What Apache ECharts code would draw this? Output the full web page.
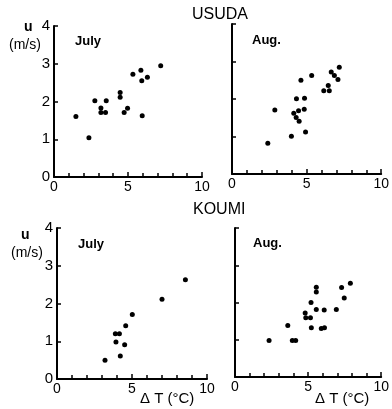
<!DOCTYPE html>
<html>
<head>
<meta charset="utf-8">
<script src="https://cdn.jsdelivr.net/npm/echarts@6/dist/echarts.min.js"></script>
<style>
html,body{margin:0;padding:0;background:#fff;}
#chart{width:392px;height:409px;}
</style>
</head>
<body>
<div id="chart"></div>
<script>
// 风速 u (m/s) 与 温差 ΔT (°C) 的散点
var usudaJuly = [
    [1.48,1.60],[2.36,1.04],[2.76,2.02],[3.17,1.83],[3.17,1.71],[3.48,1.71],
    [3.53,2.02],[4.47,2.24],[4.47,2.11],[4.74,1.71],[4.97,1.82],[5.33,2.72],
    [5.87,2.83],[5.93,2.55],[5.96,1.62],[6.31,2.64],[7.21,2.95]
];
var usudaAug = [
    [2.40,0.82],[2.87,1.71],[3.98,1.01],[4.14,1.62],[4.30,1.51],[4.32,2.01],
    [4.46,1.69],[4.50,1.41],[4.62,2.50],[4.84,1.73],[4.86,2.02],[4.93,1.12],
    [5.34,2.63],[6.15,2.22],[6.45,2.36],[6.52,2.22],[6.65,2.72],[6.86,2.63],
    [7.10,2.52],[7.19,2.85]
];
var koumiJuly = [
    [3.20,0.50],[3.89,1.20],[3.93,0.98],[4.16,1.20],[4.22,0.61],[4.51,0.91],
    [4.58,1.41],[5.02,1.71],[7.00,2.11],[8.56,2.63]
];
var koumiAug = [
    [2.33,0.98],[3.61,1.38],[3.92,0.98],[4.15,0.98],[4.80,1.72],[4.84,1.59],
    [5.16,1.59],[5.20,2.00],[5.22,1.32],[5.56,2.41],[5.56,2.28],[5.56,1.81],
    [5.90,1.30],[6.12,1.32],[6.10,1.80],[6.93,1.81],[7.29,2.40],[7.47,2.12],
    [7.89,2.52]
];
var xTicks = [0, 5, 10];
var yTicks = [0, 1, 2, 3, 4];

var font = 'Liberation Sans, Arial, sans-serif';
var grids = [
    {left: 54, top: 26, width: 148, height: 151},
    {left: 232, top: 24, width: 151, height: 150},
    {left: 57, top: 228, width: 150, height: 151},
    {left: 235, top: 228, width: 148, height: 149}
];
var panels = [usudaJuly, usudaAug, koumiJuly, koumiAug];

var xAxes = [], yAxes = [], series = [];
for (var i = 0; i < 4; i++) {
    xAxes.push({
        type: 'value', gridIndex: i, min: 0, max: 10, interval: 5,
        axisLine: {lineStyle: {color: '#000', width: 2}},
        axisTick: {inside: true, length: 5, lineStyle: {color: '#000', width: 1.5}},
        minorTick: {show: true, splitNumber: 5, length: 4, lineStyle: {color: '#000', width: 1.5}},
        splitLine: {show: false},
        axisLabel: {
            color: '#000', fontSize: 14, fontFamily: font, margin: 3,
            formatter: function (v) { return xTicks.indexOf(v) >= 0 ? String(v) : ''; }
        }
    });
    yAxes.push({
        type: 'value', gridIndex: i, min: 0, max: 4, interval: 1,
        axisLine: {show: true, lineStyle: {color: '#000', width: 2}},
        axisTick: {show: true, inside: true, length: 4, lineStyle: {color: '#000', width: 1.5}},
        splitLine: {show: false},
        axisLabel: {
            show: i % 2 === 0, color: '#000', fontSize: 15, fontFamily: font, margin: 4,
            formatter: function (v) { return yTicks.indexOf(v) >= 0 ? String(v) : ''; }
        }
    });
    series.push({
        type: 'scatter', xAxisIndex: i, yAxisIndex: i,
        data: panels[i], symbolSize: 5,
        itemStyle: {color: '#000', opacity: 1}
    });
}

function txt(x, y, s, size, weight) {
    return {
        type: 'text', left: x, top: y,
        style: {text: s, fontSize: size, fontFamily: font, fontWeight: weight || 'normal', fill: '#000'}
    };
}

var myChart = echarts.init(document.getElementById('chart'));
var option = {
    animation: false,
    grid: grids,
    xAxis: xAxes,
    yAxis: yAxes,
    series: series,
    graphic: [
        txt(192, 7, 'USUDA', 16),
        txt(193, 202, 'KOUMI', 16),
        txt(75, 35, 'July', 13, 'bold'),
        txt(252, 34, 'Aug.', 13, 'bold'),
        txt(78, 238, 'July', 13, 'bold'),
        txt(253, 237, 'Aug.', 13, 'bold'),
        txt(24, 20, 'u', 14, 'bold'),
        txt(9, 38, '(m/s)', 14),
        txt(21, 228, 'u', 14, 'bold'),
        txt(11, 246, '(m/s)', 14),
        txt(140, 391, '\u0394 T (\u00b0C)', 15),
        txt(315, 391, '\u0394 T (\u00b0C)', 15)
    ]
};
myChart.setOption(option);
</script>
</body>
</html>
